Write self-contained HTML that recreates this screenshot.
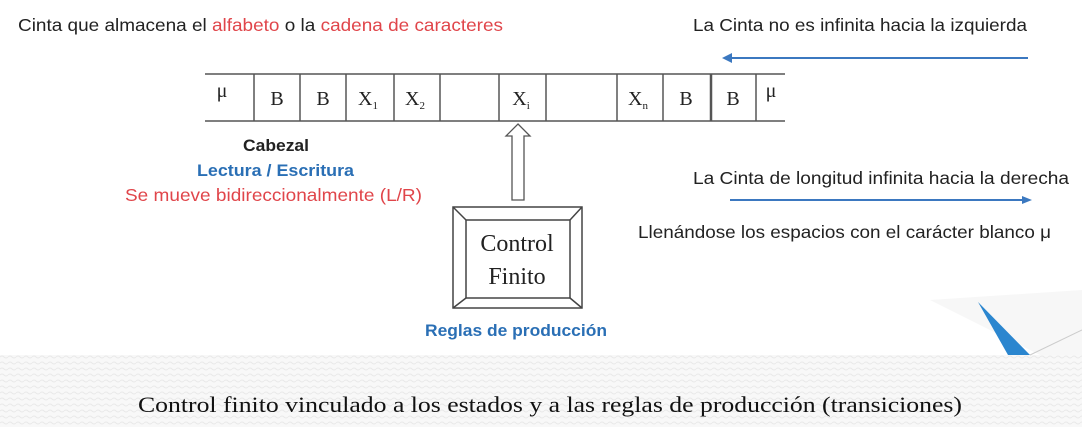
<!DOCTYPE html>
<html><head><meta charset="utf-8"><style>
html,body{margin:0;padding:0;background:#fff;}
svg{display:block}
</style></head><body>
<svg width="1082" height="427" viewBox="0 0 1082 427" xmlns="http://www.w3.org/2000/svg" font-family="Liberation Sans, sans-serif">
<defs>
<pattern id="wv" width="8" height="6" patternUnits="userSpaceOnUse"><path d="M0 3 Q2 1 4 3 T8 3" fill="none" stroke="#e9e9e9" stroke-width="1"/></pattern>
</defs>
<rect x="0" y="355" width="1082" height="72" fill="#f8f8f8"/>
<rect x="0" y="355" width="1082" height="72" fill="url(#wv)"/>
<polygon points="930,300 1082,290 1082,355 1040,355" fill="#f7f7f7"/>
<polygon points="978,302 1030,355 1008,355" fill="#2b86cf"/>
<line x1="1030" y1="355" x2="1082" y2="330" stroke="#ccc" stroke-width="1"/>

<text x="18" y="31" font-size="17.5" textLength="485" lengthAdjust="spacingAndGlyphs" fill="#222">Cinta que almacena el <tspan fill="#e0454a">alfabeto</tspan> o la <tspan fill="#e0454a">cadena de caracteres</tspan></text>
<text x="693" y="31" font-size="17.5" textLength="334" lengthAdjust="spacingAndGlyphs" fill="#222">La Cinta no es infinita hacia la izquierda</text>
<line x1="1028" y1="58" x2="730" y2="58" stroke="#3b78c0" stroke-width="2"/>
<polygon points="722,58 732,53 732,63" fill="#3b78c0"/>

<g stroke="#555" stroke-width="1.5" fill="none">
<line x1="205" y1="74" x2="785" y2="74"/>
<line x1="205" y1="121" x2="785" y2="121"/>
<line x1="254" y1="74" x2="254" y2="121"/><line x1="300" y1="74" x2="300" y2="121"/>
<line x1="346" y1="74" x2="346" y2="121"/><line x1="394" y1="74" x2="394" y2="121"/>
<line x1="440" y1="74" x2="440" y2="121"/><line x1="499" y1="74" x2="499" y2="121"/>
<line x1="546" y1="74" x2="546" y2="121"/><line x1="617" y1="74" x2="617" y2="121"/>
<line x1="663" y1="74" x2="663" y2="121"/><line x1="711" y1="74" x2="711" y2="121" stroke-width="2.5"/>
<line x1="756" y1="74" x2="756" y2="121"/>
</g>
<g font-family="Liberation Serif, serif" font-size="20" fill="#222" text-anchor="middle">
<text x="222" y="97">μ</text>
<text x="277" y="105">B</text><text x="323" y="105">B</text>
<text x="368" y="105">X<tspan font-size="11" dy="4">1</tspan></text>
<text x="415" y="105">X<tspan font-size="11" dy="4">2</tspan></text>
<text x="521" y="105">X<tspan font-size="11" dy="4">i</tspan></text>
<text x="638" y="105">X<tspan font-size="11" dy="4">n</tspan></text>
<text x="686" y="105">B</text><text x="733" y="105">B</text>
<text x="771" y="97">μ</text>
</g>
<polygon points="518,124 530,136 524,136 524,200 512,200 512,136 506,136" fill="#fff" stroke="#555" stroke-width="1.3"/>

<g stroke="#444" stroke-width="1.5" fill="#fff">
<rect x="453" y="207" width="129" height="101"/>
<rect x="466" y="220" width="104" height="78"/>
<line x1="453" y1="207" x2="466" y2="220"/><line x1="582" y1="207" x2="570" y2="220"/>
<line x1="453" y1="308" x2="466" y2="298"/><line x1="582" y1="308" x2="570" y2="298"/>
</g>
<text x="517" y="251" font-family="Liberation Serif, serif" font-size="24" text-anchor="middle" fill="#222">Control</text>
<text x="517" y="284" font-family="Liberation Serif, serif" font-size="24" text-anchor="middle" fill="#222">Finito</text>
<text x="425" y="336" font-size="17" font-weight="bold" textLength="182" lengthAdjust="spacingAndGlyphs" fill="#2a6fb5">Reglas de producción</text>

<text x="243" y="151" font-size="17" font-weight="bold" textLength="66" lengthAdjust="spacingAndGlyphs" fill="#222">Cabezal</text>
<text x="197" y="176" font-size="17" font-weight="bold" textLength="157" lengthAdjust="spacingAndGlyphs" fill="#2a6fb5">Lectura / Escritura</text>
<text x="125" y="201" font-size="17.5" textLength="297" lengthAdjust="spacingAndGlyphs" fill="#e0454a">Se mueve bidireccionalmente (L/R)</text>

<text x="693" y="184" font-size="17.5" textLength="376" lengthAdjust="spacingAndGlyphs" fill="#222">La Cinta de longitud infinita hacia la derecha</text>
<line x1="730" y1="200" x2="1024" y2="200" stroke="#3b78c0" stroke-width="2"/>
<polygon points="1032,200 1022,196 1022,204" fill="#3b78c0"/>
<text x="638" y="238" font-size="17.5" textLength="413" lengthAdjust="spacingAndGlyphs" fill="#222">Llenándose los espacios con el carácter blanco μ</text>

<text x="550" y="412" font-family="Liberation Serif, serif" font-size="22" text-anchor="middle" textLength="824" lengthAdjust="spacingAndGlyphs" fill="#111">Control finito vinculado a los estados y a las reglas de producción (transiciones)</text>
</svg>
</body></html>
